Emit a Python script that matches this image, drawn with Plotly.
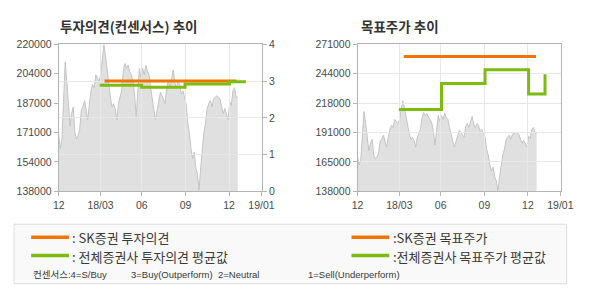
import plotly.graph_objects as go

# ---------------- data ----------------
# daily close (sampled), x = trading-sample index
PRICE = [169000, 161800, 167400, 186900, 210200, 199400, 188700, 174400, 181500, 185100,
         170800, 167200, 169000, 172600, 183300, 185100, 188700, 183300, 178000, 186900,
         194100, 197600, 195800, 203000, 201200, 199400, 203000, 211900, 220000, 213700,
         204800, 197600, 190500, 185100, 186900, 184200, 178000, 186900, 190500, 194100,
         204800, 209300, 206600, 208400, 204800, 203000, 199400, 192200, 179700, 194100,
         206600, 201200, 206600, 203000, 208400, 204800, 203000, 195800, 188700, 183300,
         178000, 183300, 188700, 193200, 191400, 188700, 186900, 196700, 199400, 195800,
         201200, 205700, 198500, 195800, 199400, 197600, 192200, 194100, 190500, 186900,
         176100, 170800, 161800, 156400, 160000, 151100, 147500, 138500, 151100, 163600,
         170800, 176100, 184200, 186900, 188700, 185100, 189600, 190500, 191400, 190500,
         189600, 185100, 181500, 184200, 180600, 178000, 187800, 186000, 194100, 195800,
         190500, 190500]
PRICE_X = list(range(len(PRICE)))

X_TICK_POS = [0, 25.9, 51.5, 78.6, 105.6, 125.7]
X_TICK_TEXT = ["12", "18/03", "06", "09", "12", "19/01"]
X_RANGE = [0, 126]

# investment opinion (left chart)
SK_OPINION_X = [28.4, 110.4]
SK_OPINION_Y = [3, 3]
AVG_OPINION_X = [25.4, 51.4, 78.3, 105.8, 116]
AVG_OPINION_Y = [2.89, 2.83, 2.92, 2.98, 2.98]

# target price (right chart)
SK_TARGET_X = [28.6, 110.6]
SK_TARGET_Y = [260000, 260000]
AVG_TARGET_X = [25.6, 52, 79, 106, 116.2]
AVG_TARGET_Y = [212000, 235600, 248000, 226000, 244000]

L_PRICE_TICKS = [138000, 154400, 170800, 187200, 203600, 220000]
L_PRICE_TEXT = ["138000", "154000", "171000", "187000", "204000", "220000"]
OPINION_TICKS = [0, 1, 2, 3, 4]
R_PRICE_TICKS = [138000, 164600, 191200, 217800, 244400, 271000]
R_PRICE_TEXT = ["138000", "165000", "191000", "218000", "244000", "271000"]

# ---------------- style ----------------
W, H = 590, 300
ORANGE = "#f27400"
GREEN = "#7dba12"
FRAME = "#b4b4b4"
GRID = "#e8e8e8"
TICKFONT = dict(family="Liberation Sans, Arial, sans-serif", size=10.5, color="#4a4a4a")
KFONT = "Noto Sans CJK KR"

def px(x):
    return x / W

def py(y):
    return 1 - y / H

LDOM = [px(54.5), px(264.5)]
RDOM = [px(363.3), px(573.3)]
YDOM = [py(193), py(40)]

fig = go.Figure()

# price areas
for xa, ya in (("x", "y"), ("x2", "y2")):
    fig.add_trace(go.Scatter(x=PRICE_X, y=PRICE, xaxis=xa, yaxis=ya, mode="lines",
                             fill="tozeroy", fillcolor="#e0e0e0",
                             line=dict(color="#c4c4c4", width=1), hoverinfo="skip"))

# opinion lines
fig.add_trace(go.Scatter(x=SK_OPINION_X, y=SK_OPINION_Y, xaxis="x3", yaxis="y3", mode="lines",
                         line=dict(color=ORANGE, width=3)))
fig.add_trace(go.Scatter(x=AVG_OPINION_X, y=AVG_OPINION_Y, xaxis="x3", yaxis="y3", mode="lines",
                         line=dict(color=GREEN, width=3, shape="hv")))
# target price lines
fig.add_trace(go.Scatter(x=SK_TARGET_X, y=SK_TARGET_Y, xaxis="x4", yaxis="y4", mode="lines",
                         line=dict(color=ORANGE, width=3)))
fig.add_trace(go.Scatter(x=AVG_TARGET_X, y=AVG_TARGET_Y, xaxis="x4", yaxis="y4", mode="lines",
                         line=dict(color=GREEN, width=3, shape="hv")))

base_x = dict(range=X_RANGE, tickvals=X_TICK_POS, ticktext=X_TICK_TEXT, ticks="outside",
              ticklen=4, tickcolor=FRAME, showline=True, linecolor=FRAME, linewidth=1,
              mirror=True, showgrid=False, zeroline=False, tickfont=TICKFONT, fixedrange=True)
grid_x = dict(range=X_RANGE, tickvals=X_TICK_POS, showticklabels=False, ticks="",
              showline=False, showgrid=True, gridcolor=GRID, gridwidth=1, zeroline=False,
              fixedrange=True)

fig.update_layout(
    width=W, height=H, margin=dict(l=0, r=0, t=0, b=0),
    paper_bgcolor="white", plot_bgcolor="rgba(0,0,0,0)", showlegend=False,
    xaxis=dict(domain=LDOM, anchor="y", **base_x),
    yaxis=dict(domain=YDOM, anchor="x", range=[138000, 220000], tickvals=L_PRICE_TICKS,
               ticktext=L_PRICE_TEXT, ticks="outside", ticklen=4, tickcolor=FRAME,
               showline=True, linecolor=FRAME, mirror=True, showgrid=False, zeroline=False,
               tickfont=TICKFONT, fixedrange=True),
    xaxis3=dict(domain=LDOM, anchor="y3", **grid_x),
    yaxis3=dict(domain=YDOM, anchor="x3", side="right", range=[0, 4], tickvals=OPINION_TICKS,
                ticks="outside", ticklen=4, tickcolor=FRAME, showline=False, showgrid=True,
                gridcolor=GRID, zeroline=False, tickfont=TICKFONT, fixedrange=True),
    xaxis2=dict(domain=RDOM, anchor="y2", **base_x),
    yaxis2=dict(domain=YDOM, anchor="x2", range=[138000, 271000], tickvals=R_PRICE_TICKS,
                ticktext=R_PRICE_TEXT, ticks="outside", ticklen=4, tickcolor=FRAME,
                showline=True, linecolor=FRAME, mirror=True, showgrid=False, zeroline=False,
                tickfont=TICKFONT, fixedrange=True),
    xaxis4=dict(domain=RDOM, anchor="y4", **grid_x),
    yaxis4=dict(domain=YDOM, anchor="x4", range=[138000, 271000], tickvals=R_PRICE_TICKS,
                showticklabels=False, ticks="", showline=False, showgrid=True,
                gridcolor=GRID, zeroline=False, fixedrange=True),
)

# titles
fig.add_annotation(x=px(53.5), y=py(20.5), xref="paper", yref="paper", xanchor="left",
                   yanchor="middle", showarrow=False, text="<b>투자의견(컨센서스) 추이</b>",
                   font=dict(family=KFONT, size=13.5, color="#333333"))
fig.add_annotation(x=px(365), y=py(20.5), xref="paper", yref="paper", xanchor="left",
                   yanchor="middle", showarrow=False, text="<b>목표주가 추이</b>",
                   font=dict(family=KFONT, size=13.5, color="#333333"))

# legend box
fig.add_shape(type="rect", xref="paper", yref="paper", x0=px(8.3), x1=px(579.3),
              y0=py(289.3), y1=py(227.3), fillcolor="#f9f9f9",
              line=dict(color="#dddddd", width=1), layer="below")
for (x0, x1, yy, col) in ((26, 65, 241, ORANGE), (26, 65, 260, GREEN),
                          (357, 396, 241, ORANGE), (357, 396, 260, GREEN)):
    fig.add_shape(type="line", xref="paper", yref="paper", x0=px(x0), x1=px(x1),
                  y0=py(yy), y1=py(yy), line=dict(color=col, width=3.5))

LEG = [(66.5, 241, ": SK증권 투자의견"), (66.5, 260.5, ": 전체증권사 투자의견 평균값"),
       (397.5, 241, ":SK증권 목표주가"), (397.5, 260.5, ":전체증권사 목표주가 평균값")]
for xx, yy, t in LEG:
    fig.add_annotation(x=px(xx), y=py(yy), xref="paper", yref="paper", xanchor="left",
                       yanchor="middle", showarrow=False, text=t,
                       font=dict(family=KFONT, size=13, color="#3a3a3a"))

NOTE = [(25.5, "컨센서스:4=S/Buy"), (127, "3=Buy(Outperform)"), (217.5, "2=Neutral"),
        (309.5, "1=Sell(Underperform)")]
for xx, t in NOTE:
    fig.add_annotation(x=px(xx), y=py(280), xref="paper", yref="paper", xanchor="left",
                       yanchor="middle", showarrow=False, text=t,
                       font=dict(family="Liberation Sans, " + KFONT, size=9.5, color="#3a3a3a"))

fig.write_html("out.html")
